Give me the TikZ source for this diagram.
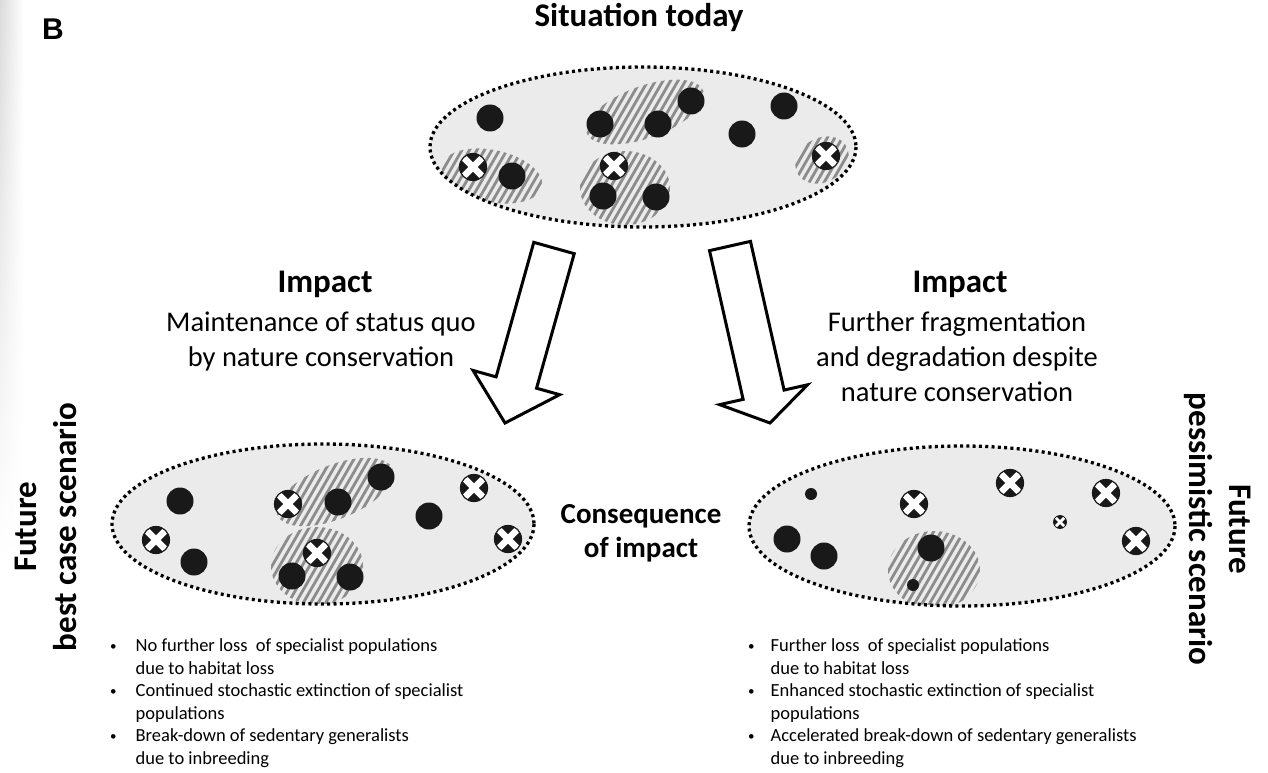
\documentclass[tikz,border=0pt]{standalone}
\usepackage{fontspec}
\setmainfont{Carlito}
\newfontfamily\panelfont{Liberation Sans}
\usetikzlibrary{calc,fadings}

\tikzset{
  habitat/.style={fill=black!8},
  rim/.style={draw=black, line width=3.3pt, dash pattern=on 3pt off 3.3pt},
  stripe/.style={draw=black!45, line width=2.8pt},
  pop/.style={circle, fill=black!90, inner sep=0pt, minimum size=27pt},
  lost/.style={circle, fill=black!90, draw=black!90, line width=1.2pt, inner sep=0pt, minimum size=27pt,
    path picture={\draw[white, line width=#1] (path picture bounding box.south west) -- (path picture bounding box.north east)
      (path picture bounding box.north west) -- (path picture bounding box.south east);}},
  lost/.default=6.5pt,
  blockarrow/.style={draw=black, fill=white, line width=3pt, line join=miter},
  heading/.style={font=\fontsize{33}{40}\selectfont\bfseries, align=center, inner sep=0pt},
  body/.style={font=\fontsize{28.5}{35}\selectfont, align=center, inner sep=0pt},
  bullets/.style={font=\fontsize{18.5}{22.5}\selectfont, inner sep=0pt}
}

% hollow arrow: #1 shaft start, #2 tip, #3 head length
\newcommand{\impactarrow}[3]{%
  \coordinate (#1h) at ($(#2)!#3!(#1)$);
  \draw[blockarrow] ($(#1)!21pt!90:(#2)$) -- ($(#1h)!21pt!90:(#2)$) -- ($(#1h)!45pt!90:(#2)$) -- (#2)
    -- ($(#1h)!45pt!-90:(#2)$) -- ($(#1h)!21pt!-90:(#2)$) -- ($(#1)!21pt!-90:(#2)$) -- cycle;}
% diagonal stripes round a patch centre
\newcommand{\hatch}[2]{%
  \foreach \k in {-120,-112.5,...,120}
    \draw[stripe] ({#1+\k-45},{#2+78}) -- ({#1+\k+45},{#2-78});}
\newcommand{\bul}{\raisebox{1.5pt}{\fontsize{13}{13}\selectfont\textbullet}}

\begin{document}
\begin{tikzpicture}[x=1pt, y=-1pt]
\useasboundingbox (0,0) rectangle (1268,773);
\shade[left color=black!14, right color=white, path fading=south] (0,0) rectangle (24,560);

\node[anchor=base west, inner sep=0pt, font=\panelfont\fontsize{30}{36}\selectfont\bfseries] (panel) at (42,40) {B};

%% situation today
\coordinate (today) at (643,147);
\fill[habitat] (today) ellipse [x radius=213, y radius=80];
\begin{scope}
  \clip (today) ellipse [x radius=213, y radius=80];
  \begin{scope}
    \clip[rotate around={20:(645,112)}] (645,112) ellipse [x radius=62, y radius=26];
    \hatch{645}{112}
  \end{scope}
  \begin{scope}
    \clip[rotate around={-12:(492,176)}] (492,176) ellipse [x radius=51, y radius=26];
    \hatch{492}{176}
  \end{scope}
  \begin{scope}
    \clip (625,188) ellipse [x radius=45, y radius=37];
    \hatch{625}{188}
  \end{scope}
  \begin{scope}
    \clip[rotate around={30:(822,160)}] (822,160) ellipse [x radius=28, y radius=22];
    \hatch{822}{160}
  \end{scope}
\end{scope}
\draw[rim] (today) ellipse [x radius=213, y radius=80];
\foreach \x/\y [count=\i] in {490/118, 600/124, 658/124, 691/101, 742/134, 784/106, 512/176, 603/196, 656/197}
  \node[pop] (tp\i) at (\x,\y) {};
\foreach \x/\y [count=\i] in {473/167, 614/166, 826/156}
  \node[lost] (tl\i) at (\x,\y) {};

%% best case
\coordinate (best) at (323,524);
\fill[habitat] (best) ellipse [x radius=211, y radius=80];
\begin{scope}
  \clip (best) ellipse [x radius=211, y radius=80];
  \begin{scope}
    \clip[rotate around={22:(335,492)}] (335,492) ellipse [x radius=62, y radius=27];
    \hatch{335}{492}
  \end{scope}
  \begin{scope}
    \clip (317,566) ellipse [x radius=46, y radius=39];
    \hatch{317}{566}
  \end{scope}
\end{scope}
\draw[rim] (best) ellipse [x radius=211, y radius=80];
\foreach \x/\y [count=\i] in {180/501, 194/562, 338/502, 381/477, 292/576, 350/577, 429/516}
  \node[pop] (bp\i) at (\x,\y) {};
\foreach \x/\y [count=\i] in {156/540, 288/504, 317/553, 474/488, 508/539}
  \node[lost] (bl\i) at (\x,\y) {};

%% pessimistic
\coordinate (worst) at (962,526);
\fill[habitat] (worst) ellipse [x radius=213, y radius=80];
\begin{scope}
  \clip (worst) ellipse [x radius=213, y radius=80];
  \clip (934,570) ellipse [x radius=46, y radius=39];
  \hatch{934}{570}
\end{scope}
\draw[rim] (worst) ellipse [x radius=213, y radius=80];
\foreach \x/\y [count=\i] in {787/539, 824/556, 931/548}
  \node[pop] (wp\i) at (\x,\y) {};
\node[pop, minimum size=12pt] (ws1) at (811,494) {};
\node[pop, minimum size=12pt] (ws2) at (913,585) {};
\foreach \x/\y [count=\i] in {914/504, 1010/483, 1106/493, 1136/541}
  \node[lost] (wl\i) at (\x,\y) {};
\node[lost=2.8pt, minimum size=13pt, line width=0.8pt] (ws3) at (1060,522) {};

%% arrows
\coordinate (keepfrom) at (554,248);
\coordinate (keepto) at (505,423);
\coordinate (losefrom) at (730,246);
\coordinate (loseto) at (770,423);
\impactarrow{keepfrom}{keepto}{42pt}
\impactarrow{losefrom}{loseto}{29pt}

%% texts
\node[heading, anchor=base] (title) at (639,27) {Situation today};
\node[heading, anchor=base] (keephead) at (325,292) {Impact};
\node[body] (keeptext) at (321,341) {Maintenance of status quo\\by nature conservation};
\node[heading, anchor=base] (losehead) at (960,292) {Impact};
\node[body] (losetext) at (957,357) {Further fragmentation\\and degradation despite\\nature conservation};
\node[heading, font=\fontsize{29}{34}\selectfont\bfseries] (conseq) at (641,533) {Consequence\\of impact};

\node[heading, rotate=90] (bestlabel) at (46,527) {Future\\best case scenario};
\node[heading, rotate=-90] (worstlabel) at (1218,529) {Future\\pessimistic scenario};

\node[bullets, anchor=north west] (bestlist) at (110,636) {\begin{tabular}{@{}l@{\hspace{19pt}}l@{}}
  \bul & No further loss\ \ of specialist populations\\
   & due to habitat loss\\
  \bul & Continued stochastic extinction of specialist\\
   & populations\\
  \bul & Break-down of sedentary generalists\\
   & due to inbreeding
\end{tabular}};
\node[bullets, anchor=north west] (worstlist) at (748,636) {\begin{tabular}{@{}l@{\hspace{16pt}}l@{}}
  \bul & Further loss\ \ of specialist populations\\
   & due to habitat loss\\
  \bul & Enhanced stochastic extinction of specialist\\
   & populations\\
  \bul & Accelerated break-down of sedentary generalists\\
   & due to inbreeding
\end{tabular}};
\end{tikzpicture}
\end{document}
